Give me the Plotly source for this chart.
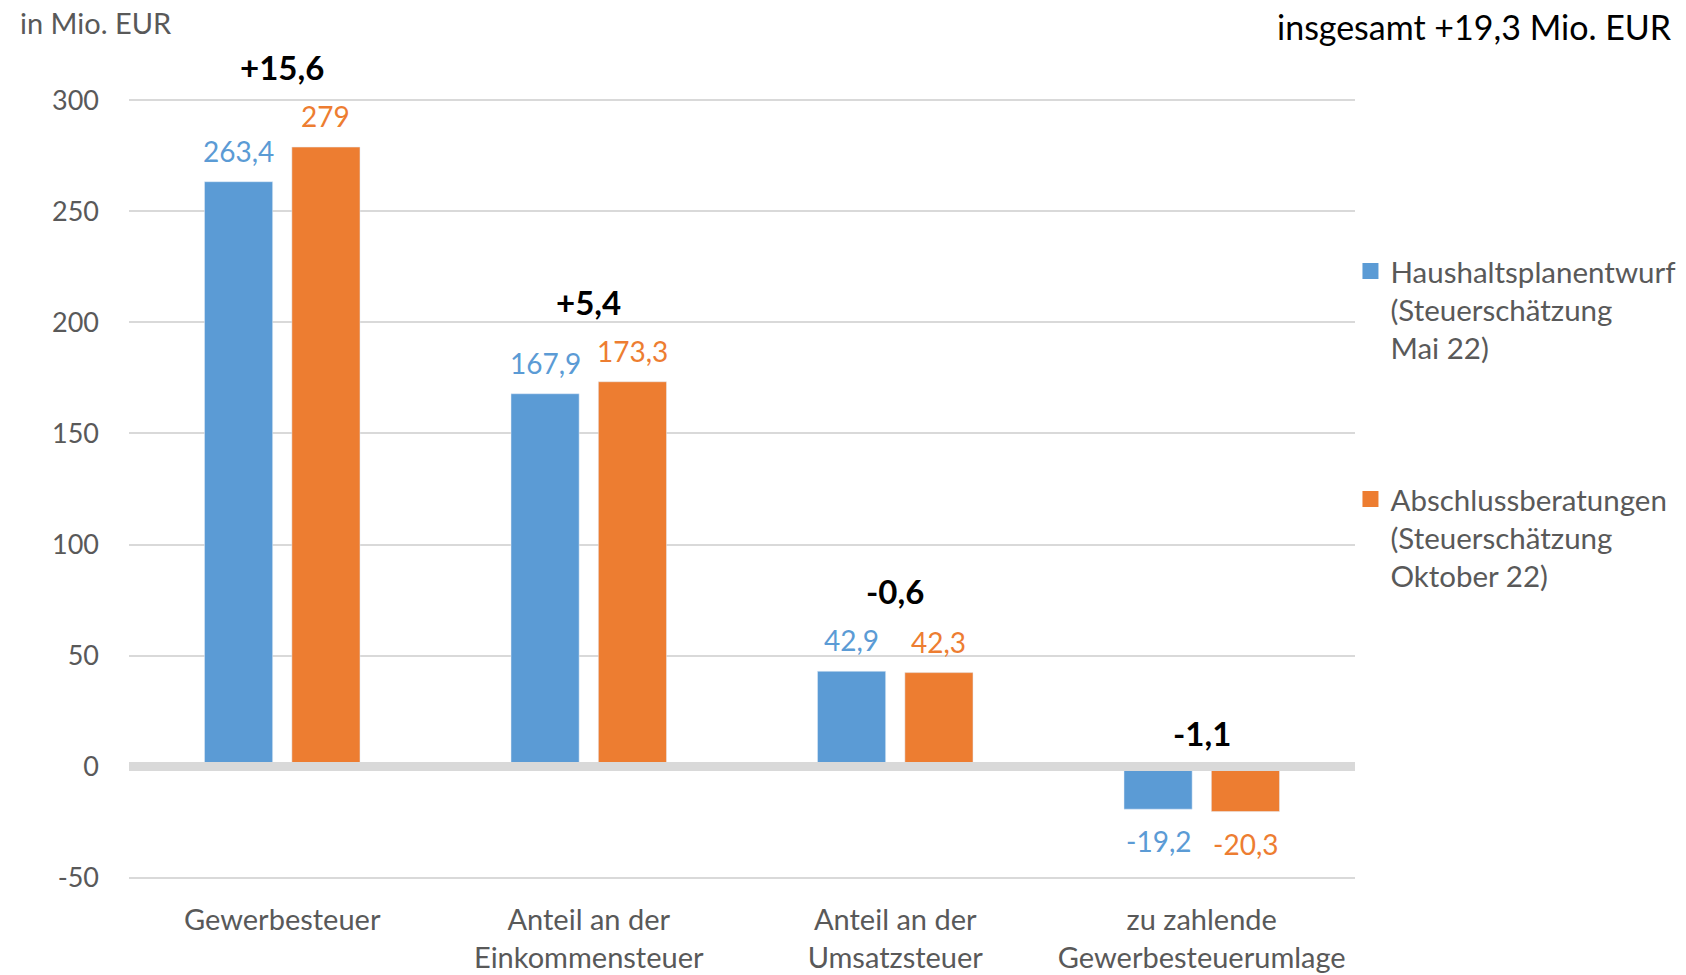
import plotly.graph_objects as go

categories = ["Gewerbesteuer", "Anteil an der<br>Einkommensteuer", "Anteil an der<br>Umsatzsteuer", "zu zahlende<br>Gewerbesteuerumlage"]
series_names = ["Haushaltsplanentwurf<br>(Steuerschätzung<br>Mai 22)", "Abschlussberatungen<br>(Steuerschätzung<br>Oktober 22)"]
mai_values = [263.4, 167.9, 42.9, -19.2]
okt_values = [279.0, 173.3, 42.3, -20.3]
y_ticks = [-50, 0, 50, 100, 150, 200, 250, 300]

BLUE = "#5b9bd5"
ORANGE = "#ed7d31"
GRAY_TXT = "#595959"
FONT = "Lato"
BARGAP = 0.43


def fmt(v, sign=False):
    s = f"{v:+.1f}" if sign else f"{v:.1f}"
    if s.endswith(".0") and not sign:
        s = s[:-2]
    return s.replace(".", ",")


fig = go.Figure()
series = [(series_names[0], mai_values, BLUE, "a"), (series_names[1], okt_values, ORANGE, "b")]
for j, (name, vals, col, grp) in enumerate(series):
    fig.add_trace(go.Bar(
        x=list(range(len(categories))), y=vals, name=name, marker_color=col, legendgroup=grp,
        showlegend=False, hoverinfo="y",
    ))
    # legend entry with a larger square swatch
    fig.add_trace(go.Scatter(
        x=[None], y=[None], mode="markers", name=name, legendgroup=grp,
        marker=dict(symbol="square", size=16, color=col, line=dict(width=0)),
    ))
    # value labels, placed at each bar's centre in data coordinates
    for i, v in enumerate(vals):
        fig.add_annotation(x=i + (j - 0.5) * (1 - BARGAP) / 2, y=v, text=fmt(v), showarrow=False,
                           yanchor="middle", yshift=(31 if v >= 0 else -32),
                           font=dict(size=28, color=col, family=FONT))

# difference annotations
total = 0.0
for i, (a, b) in enumerate(zip(mai_values, okt_values)):
    d = round(b - a, 1)
    total += d
    top = max(a, b, 0)
    fig.add_annotation(x=i, y=top, text=f"<b>{fmt(d, sign=True)}</b>", showarrow=False,
                       yanchor="middle", yshift=(80 if top > 0 else 34),
                       font=dict(size=33, color="black", family=FONT))

fig.add_annotation(xref="paper", yref="paper", x=0, y=1.0, xshift=-111, yshift=74, xanchor="left", yanchor="middle",
                   text="in Mio. EUR", showarrow=False, font=dict(size=29, color=GRAY_TXT, family=FONT))
fig.add_annotation(xref="paper", yref="paper", x=1.0, y=1.0, xshift=319, yshift=70, xanchor="right", yanchor="middle",
                   text=f"insgesamt {fmt(round(total, 1), sign=True)} Mio. EUR", showarrow=False,
                   font=dict(size=34, color="black", family=FONT))

fig.add_shape(type="line", xref="paper", yref="y", x0=0, x1=1, y0=0, y1=0,
              line=dict(color="#d9d9d9", width=9), layer="above")

fig.update_layout(
    width=1686, height=975,
    margin=dict(l=129, r=331, t=96, b=93, autoexpand=False),
    plot_bgcolor="white", paper_bgcolor="white",
    barmode="group", bargap=BARGAP, bargroupgap=0.22,
    font=dict(family=FONT, color=GRAY_TXT),
    showlegend=True,
    legend=dict(x=0.9963, y=0.81, xanchor="left", yanchor="top", valign="top",
                bgcolor="rgba(0,0,0,0)",
                font=dict(size=29.5, color=GRAY_TXT, family=FONT), tracegroupgap=110,
                traceorder="grouped", itemwidth=30, itemsizing="trace"),
    xaxis=dict(tickmode="array", tickvals=list(range(len(categories))), ticktext=categories,
               range=[-0.5, len(categories) - 0.5],
               tickfont=dict(size=29, color=GRAY_TXT, family=FONT), showline=False, ticks="",
               ticklabelstandoff=18, automargin=False, showgrid=False, zeroline=False),
    yaxis=dict(range=[-52, 302], tickvals=y_ticks, ticktext=[str(t) for t in y_ticks],
               tickfont=dict(size=27, color=GRAY_TXT, family=FONT), showgrid=True, gridcolor="#d9d9d9",
               gridwidth=1.5, zeroline=False, ticklabelstandoff=29, automargin=False),
)

fig.write_html("out.html", config={"displayModeBar": False},
               post_script="document.body.style.margin='0';")
